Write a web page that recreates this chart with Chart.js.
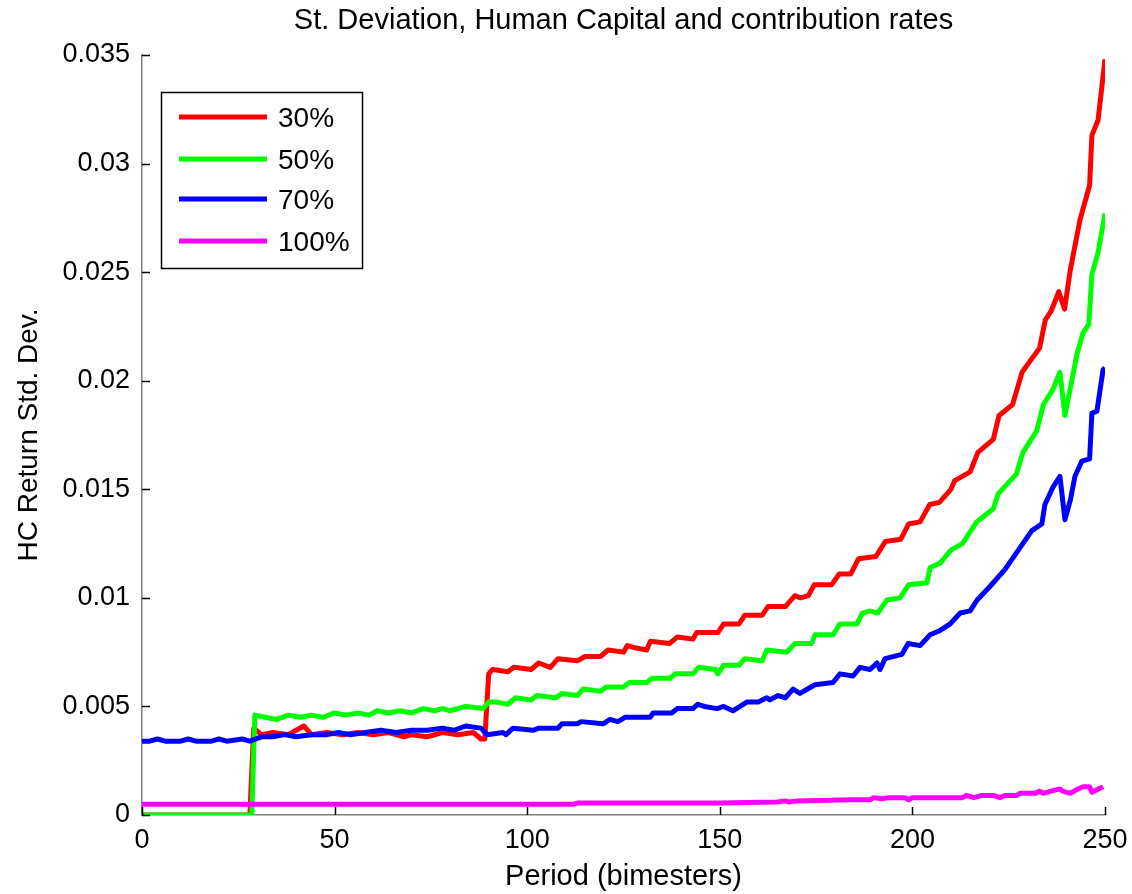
<!DOCTYPE html>
<html>
<head>
<meta charset="utf-8">
<script src="https://cdn.jsdelivr.net/npm/chart.js@4/dist/chart.umd.min.js"></script>
<style>
html,body{margin:0;padding:0;background:#fff;}
#wrap{width:1132px;height:894px;position:relative;}
</style>
</head>
<body>
<div id="wrap"><canvas id="c" width="1132" height="894"></canvas></div>
<script>
const chartTitle = "St. Deviation, Human Capital and contribution rates";
const xTitle = "Period (bimesters)";
const yTitle = "HC Return Std. Dev.";
const seriesLabels = ["30%", "50%", "70%", "100%"];
const seriesColors = ["#ff0000", "#00ff00", "#0000ff", "#ff00ff"];

const red30X = [0,28,29,31,34,38,42,44,48,52,56,60,64,68,70,74,78,82,86,88,89,90,91,95,96.5,101,103,106,108,113,115,119,121,125,126,128,131,132,137,139,143,144,149.5,151,155,156.5,161,162.5,167,169.5,171,173,174.5,179,181,184,186,190.5,193,197,199,202,204.5,207,210,211,215,217,221,222.5,226,228.5,233,234.5,236,238,239.5,241,243.5,246,246.6,248.2,250];
const red30Y = [0,0,0.0040,0.0037,0.0038,0.0037,0.0041,0.0037,0.0038,0.0037,0.0038,0.0037,0.0038,0.0036,0.0037,0.0036,0.0038,0.0037,0.0038,0.0035,0.0035,0.0065,0.0067,0.0066,0.0068,0.0067,0.0070,0.0068,0.0072,0.0071,0.0073,0.0073,0.0076,0.0075,0.0078,0.0077,0.0076,0.0080,0.0079,0.0082,0.0081,0.0084,0.0084,0.0088,0.0088,0.0092,0.0092,0.0096,0.0096,0.0101,0.0100,0.0101,0.0106,0.0106,0.0111,0.0111,0.0118,0.0119,0.0126,0.0127,0.0134,0.0135,0.0143,0.0144,0.0150,0.0154,0.0158,0.0167,0.0173,0.0184,0.0189,0.0204,0.0215,0.0228,0.0232,0.0241,0.0233,0.0251,0.0274,0.0290,0.0313,0.0320,0.0348];

const green50X = [0,28.5,29.3,32,35,38,41,44,47,50,53,56,59,61,64,67,70,73,76,78,80,84,88.5,90,92,95,97,101,102.5,107.5,109,113,114.5,119,120.5,125,126.5,131,132.5,137,138.5,143,144.5,148.8,149.5,151,155,156.5,161,162.2,167.4,169.5,173.9,174.7,179.4,181.2,185.6,187,189,191,193.4,196.8,199,203.8,204.6,207.2,210,213,216.7,221,222.3,227,228.7,232.3,234,236.5,238.3,239.6,242.7,244.3,245.8,246.6,248.2,250];
const green50Y = [0,0,0.0046,0.0045,0.0044,0.0046,0.0045,0.0046,0.0045,0.0047,0.0046,0.0047,0.0046,0.0048,0.0047,0.0048,0.0047,0.0049,0.0048,0.0049,0.0048,0.0050,0.0049,0.0052,0.0052,0.0051,0.0054,0.0053,0.0055,0.0054,0.0056,0.0055,0.0058,0.0057,0.0059,0.0059,0.0061,0.0061,0.0063,0.0063,0.0065,0.0065,0.0068,0.0067,0.0065,0.0069,0.0069,0.0072,0.0071,0.0076,0.0075,0.0079,0.0079,0.0083,0.0083,0.0088,0.0088,0.0093,0.0094,0.0093,0.0099,0.0100,0.0106,0.0107,0.0114,0.0116,0.0122,0.0125,0.0135,0.0141,0.0148,0.0157,0.0167,0.0177,0.0189,0.0196,0.0204,0.0184,0.0212,0.0222,0.0226,0.0249,0.0259,0.0277];

const blue70X = [0,2,4,6,10,12,14,18,20,22,26,28,31,34,37,40,44,48,51,54,58,62,66,70,74,78,81,84,88,89.6,93.7,94.5,96.3,101.5,103,108,109,113,114,119.7,121.5,123.5,124.5,125.4,131.9,132.7,137.5,139,143,144.3,146,149.3,151,153.4,157,160,162.2,163,165.1,167,169,170.8,174.7,179.4,181.2,184.6,186.4,189,190.8,191.6,192.9,197.3,198.9,202,204.6,207.2,209.8,212.4,215,216.8,220,224,227.9,231,233.6,234.4,236.5,238.3,239.6,241,242.2,244,246,246.6,247.9,249.5,250];
const blue70Y = [0.0034,0.0034,0.0035,0.0034,0.0034,0.0035,0.0034,0.0034,0.0035,0.0034,0.0035,0.0034,0.0036,0.0036,0.0037,0.0036,0.0037,0.0037,0.0038,0.0037,0.0038,0.0039,0.0038,0.0039,0.0039,0.0040,0.0039,0.0041,0.0040,0.0037,0.0038,0.0037,0.0040,0.0039,0.0040,0.0040,0.0042,0.0042,0.0043,0.0042,0.0044,0.0043,0.0044,0.0045,0.0045,0.0047,0.0047,0.0049,0.0049,0.0051,0.0050,0.0049,0.0050,0.0048,0.0052,0.0052,0.0054,0.0053,0.0055,0.0054,0.0058,0.0056,0.0060,0.0061,0.0065,0.0064,0.0068,0.0067,0.0070,0.0067,0.0072,0.0074,0.0079,0.0078,0.0083,0.0085,0.0088,0.0093,0.0094,0.0099,0.0105,0.0113,0.0123,0.0131,0.0134,0.0143,0.0151,0.0156,0.0136,0.0145,0.0156,0.0163,0.0164,0.0185,0.0186,0.0205,0.0206];

const magenta100X = [0,112,113,150,165,167,168,170,184,189,190,192,194,198,199,200,213,214,216,218,221,222.7,224,227,228,232,233,234,236,238.3,239,241,243,244.3,246,246.6,249.5];
const magenta100Y = [0.0005,0.0005,0.00055,0.00055,0.0006,0.00065,0.0006,0.00065,0.0007,0.0007,0.0008,0.00075,0.0008,0.0008,0.0007,0.0008,0.0008,0.0009,0.0008,0.0009,0.0009,0.0008,0.0009,0.0009,0.0010,0.0010,0.0011,0.0010,0.0011,0.0012,0.0011,0.0010,0.0012,0.0013,0.0013,0.00105,0.0013];

const xTicks = [0, 50, 100, 150, 200, 250];
const yTicks = [0, 0.005, 0.01, 0.015, 0.02, 0.025, 0.03, 0.035];

const FONT = "'Liberation Sans', Arial, sans-serif";
const FS = 27;
const FS_TITLE = 29;

function toPts(xs, ys){ return xs.map((x,i)=>({x:x, y:ys[i]})); }

const seriesX = [red30X, green50X, blue70X, magenta100X];
const seriesY = [red30Y, green50Y, blue70Y, magenta100Y];

const datasets = seriesLabels.map((lab,i)=>({
  label: lab,
  data: toPts(seriesX[i], seriesY[i]),
  borderColor: seriesColors[i],
  backgroundColor: seriesColors[i],
  borderWidth: 5,
  pointRadius: 0,
  tension: 0,
  fill: false,
  borderJoinStyle: 'round',
  borderCapStyle: 'butt',
  order: 4 - i
}));

const decorPlugin = {
  id: 'decor',
  afterDraw(chart){
    const ctx = chart.ctx;
    const ca = chart.chartArea;
    const xs = chart.scales.x, ys = chart.scales.y;
    ctx.save();
    ctx.strokeStyle = '#000';
    ctx.lineWidth = 1.5;
    xTicks.forEach(v=>{
      const px = Math.round(xs.getPixelForValue(v)) + 0.5;
      ctx.beginPath(); ctx.moveTo(px, ca.bottom); ctx.lineTo(px, ca.bottom - 8); ctx.stroke();
    });
    yTicks.forEach(v=>{
      const py = Math.round(ys.getPixelForValue(v)) + 0.5;
      ctx.beginPath(); ctx.moveTo(ca.left, py); ctx.lineTo(ca.left + 8, py); ctx.stroke();
    });
    ctx.fillStyle = '#000';
    ctx.font = FS_TITLE + 'px ' + FONT;
    ctx.textAlign = 'center';
    ctx.textBaseline = 'middle';
    ctx.fillText(chartTitle, (ca.left + ca.right)/2, 21);
    const bx = 161, by = 92, bw = 201, bh = 176;
    ctx.fillStyle = '#fff';
    ctx.fillRect(bx, by, bw, bh);
    ctx.strokeStyle = '#000';
    ctx.lineWidth = 1.5;
    ctx.strokeRect(bx + 0.5, by + 0.5, bw, bh);
    const rows = [117, 159, 199, 241];
    chart.data.datasets.forEach((ds, i)=>{
      ctx.strokeStyle = ds.borderColor;
      ctx.lineWidth = 5;
      ctx.beginPath(); ctx.moveTo(179, rows[i]); ctx.lineTo(267, rows[i]); ctx.stroke();
      ctx.fillStyle = '#000';
      ctx.font = (FS + 1) + 'px ' + FONT;
      ctx.textAlign = 'left';
      ctx.textBaseline = 'middle';
      ctx.fillText(ds.label, 278, rows[i] + 2);
    });
    ctx.restore();
  }
};

new Chart(document.getElementById('c'), {
  type: 'line',
  data: { datasets: datasets },
  plugins: [decorPlugin],
  options: {
    responsive: false,
    animation: false,
    devicePixelRatio: 1,
    layout: { padding: { top: 55, right: 27, left: 0, bottom: 0 } },
    plugins: { legend: { display: false }, title: { display: false }, tooltip: { enabled: false } },
    scales: {
      x: {
        type: 'linear', min: 0, max: 250,
        afterFit(s){ s.height = 79; s.paddingLeft = 0; s.paddingRight = 0; },
        afterBuildTicks(s){ s.ticks = xTicks.map(v=>({value:v})); },
        grid: { display: false, drawTicks: false },
        border: { display: true, color: '#808080', width: 1.5 },
        ticks: { color: '#000', font: { family: FONT, size: FS }, padding: 9, maxRotation: 0,
                 callback: v => String(v) },
        title: { display: true, text: xTitle, color: '#000', font: { family: FONT, size: FS_TITLE }, padding: { top: 0, bottom: 0 } }
      },
      y: {
        type: 'linear', min: 0, max: 0.035,
        afterFit(s){ s.width = 142; s.paddingTop = 0; s.paddingBottom = 0; },
        afterBuildTicks(s){ s.ticks = yTicks.map(v=>({value:v})); },
        grid: { display: false, drawTicks: false },
        border: { display: true, color: '#808080', width: 1.5 },
        ticks: { color: '#000', font: { family: FONT, size: FS }, padding: 12,
                 callback: v => String(Number(v.toFixed(3))) },
        title: { display: true, text: yTitle, color: '#000', font: { family: FONT, size: FS_TITLE - 1 }, padding: { top: 12, bottom: 0 } }
      }
    }
  }
});
</script>
</body>
</html>
